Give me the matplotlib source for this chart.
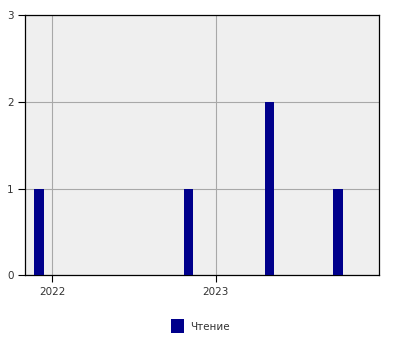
import matplotlib
matplotlib.use("Agg")
import matplotlib.pyplot as plt
import matplotlib.dates as mdates
import datetime as dt

dates = ["2021-12-01", "2022-11-01", "2023-05-01", "2023-10-01"]
values = [1, 1, 2, 1]
series_name = "Чтение"
year_ticks = ["2022-01-01", "2023-01-01"]
y_ticks = [0, 1, 2, 3]

x = [dt.datetime.fromisoformat(d) for d in dates]

fig = plt.figure(figsize=(4, 3.5), dpi=100)
ax = fig.add_axes([0.063, 0.2134, 0.885, 0.7436])
ax.set_facecolor("#efefef")
ax.bar(x, values, width=22, color="#00008b", label=series_name, zorder=3)

ax.set_xlim(dt.datetime(2021, 11, 1), dt.datetime(2024, 1, 1))
ax.set_ylim(0, 3)
ax.set_yticks(y_ticks)
ax.set_xticks([dt.datetime.fromisoformat(d) for d in year_ticks])
ax.xaxis.set_major_formatter(mdates.DateFormatter("%Y"))
ax.grid(True, color="#a8a8a8", linewidth=0.8, zorder=0)
ax.tick_params(axis="both", labelsize=7.5, colors="black", labelcolor="#333333",
               length=5, width=0.8, direction="out")
for s in ax.spines.values():
    s.set_color("black")
    s.set_linewidth(0.9)

fig.legend(loc="center", bbox_to_anchor=(0.5, 0.068), frameon=False,
           fontsize=7.5, handlelength=1.25, handleheight=1.7, handletextpad=0.6,
           labelcolor="#333333")
fig.savefig("out.png", dpi=100)
